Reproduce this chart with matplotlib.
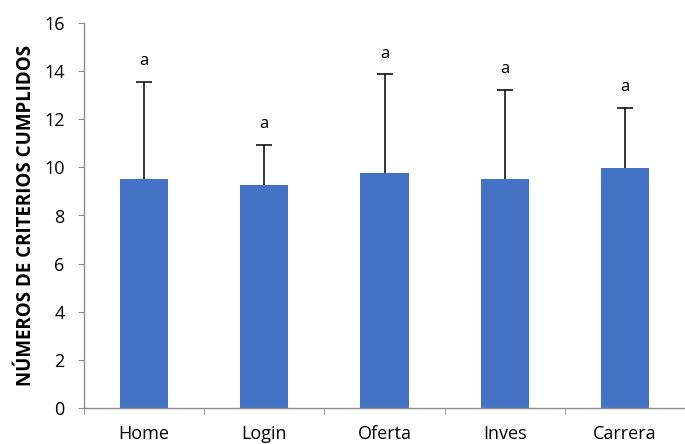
import numpy as np
import matplotlib.pyplot as plt

# data
categories = ["Home", "Login", "Oferta", "Inves", "Carrera"]
means = [9.52, 9.27, 9.75, 9.50, 9.99]
err_upper = [4.03, 1.66, 4.13, 3.72, 2.48]
letters = ["a", "a", "a", "a", "a"]

plt.rcParams['font.family'] = ['Open Sans', 'DejaVu Sans']

fig = plt.figure(figsize=(6.85, 4.44), dpi=100)
ax = fig.add_axes([84/685, 1-408/444, 1-84/685, (408-23)/444])

x = np.arange(len(categories))
ax.bar(x, means, width=0.40, color="#4472C4", zorder=2)
_, caps, _ = ax.errorbar(x, means, yerr=[np.zeros(len(means)), err_upper], fmt="none",
                         ecolor="black", elinewidth=1.1, capsize=6, capthick=1.1, zorder=3)
# only the upper cap is wanted
caps[0].remove()

# significance letters above the error bars
for xi, m, e, lab in zip(x, means, err_upper, letters):
    ax.annotate(lab, (xi, m + e), xytext=(0, 9), textcoords="offset points",
                ha="center", va="bottom", fontsize=12, color="black")

ax.set_ylim(0, 16)
ax.set_yticks(np.arange(0, 17, 2))
ax.set_xlim(-0.5, (685-84)/122 - 0.5)
ax.set_xticks(x)
ax.set_xticklabels(categories)
ax.set_xticks(np.arange(-0.5, 4.6, 1), minor=True)

for s in ["top", "right"]:
    ax.spines[s].set_visible(False)
for s in ["left", "bottom"]:
    ax.spines[s].set_color("#8c8c8c")
    ax.spines[s].set_linewidth(1.0)

ax.tick_params(axis="y", length=4, color="#8c8c8c", labelsize=13, pad=10)
ax.tick_params(axis="x", which="major", length=0, labelsize=13, pad=12.5)
ax.tick_params(axis="x", which="minor", length=4, color="#8c8c8c")

ax.set_ylabel("NÚMEROS DE CRITERIOS CUMPLIDOS", fontsize=13.5, fontweight="bold",
              labelpad=6)

fig.savefig("out.png", dpi=100)
